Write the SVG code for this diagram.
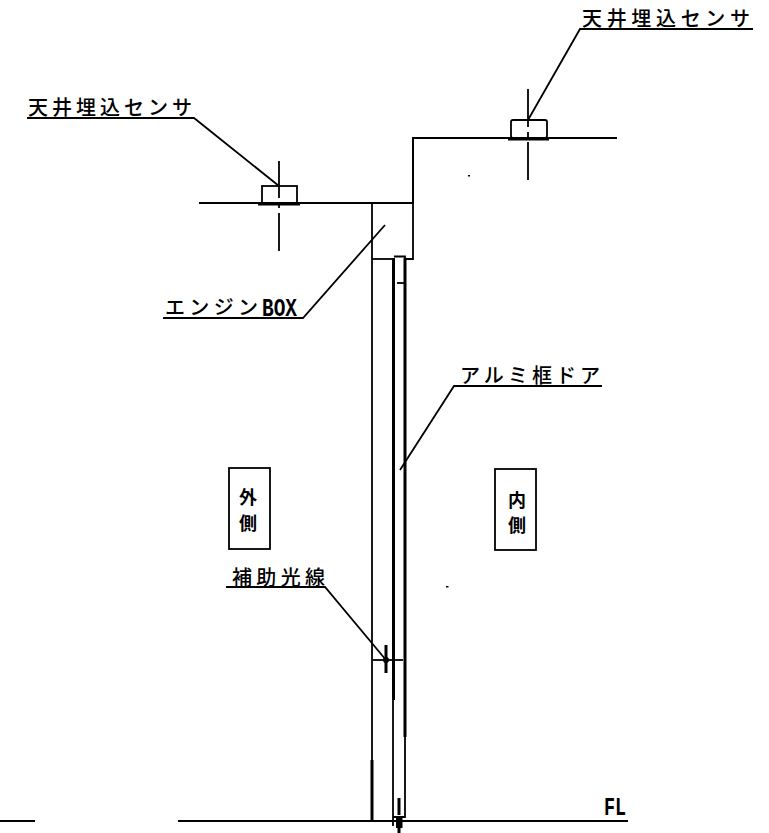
<svg xmlns="http://www.w3.org/2000/svg" width="769" height="833" viewBox="0 0 769 833">
<style>
.l{fill:none;stroke:#000;stroke-width:1.8}
.h{fill:none;stroke:#000;stroke-width:3}
.t{font-family:"Noto Sans CJK JP","Liberation Sans",sans-serif;font-size:20px;font-weight:500;fill:#000}
.v{font-family:"Noto Sans CJK JP","Liberation Sans",sans-serif;font-size:18px;font-weight:700;fill:#000}
.m{font-family:"Liberation Mono","Liberation Sans",monospace;fill:#000}
</style>
<rect width="769" height="833" fill="#fff"/>
<g id="connectors">
<path class="l" d="M27 118H194L279 186"/>
<path class="l" d="M753 29H580L528 120"/>
<path class="l" d="M163 318H303L385 225"/>
<path class="l" d="M602 386H454L400 470"/>
<path class="l" d="M226 587H325L386 660"/>
</g>
<g id="structure">
<path class="l" d="M199 203H413V138H617"/>
<path class="l" d="M413 138V259H405"/>
<path class="l" d="M372 203V760"/>
<path class="h" d="M372 760V821"/>
<path class="l" d="M372 259H393"/>
<path class="l" d="M0 821H35M178 821H628"/>
<rect x="468" y="175" width="2" height="1.500" fill="#000"/>
<rect x="446" y="586" width="2.500" height="1.500" fill="#000"/>
</g>
<g id="door">
<path class="h" d="M393.500 258V700"/>
<path class="l" d="M393 700V826"/>
<path class="l" d="M394 256.500H405V817H393"/>
<path class="h" d="M405 258V737"/>
<path class="l" d="M397 283H404"/>
<path class="h" d="M399 798V815"/>
<rect x="396" y="818" width="6.500" height="10" fill="#000"/>
<path class="h" d="M399 828V833"/>
</g>
<g id="sensor-left">
<rect class="l" x="262" y="186" width="35" height="18"/>
<path class="h" d="M258 204H300"/>
<path class="l" d="M279 161V198M279 205V208M279 213V251"/>
</g>
<g id="sensor-right">
<rect class="l" x="511" y="120" width="36" height="18" rx="2"/>
<path class="h" d="M508 139H549"/>
<path class="l" d="M528 89V127M528 132V138M528 142V180"/>
</g>
<g id="aux-light">
<path class="l" d="M373 660H403"/>
<path class="h" d="M386 645V673"/>
<circle cx="386" cy="660" r="3"/>
</g>
<g id="label-sensor-left"><text class="t" x="28" y="115" textLength="164">天井埋込センサ</text></g>
<g id="label-sensor-right"><text class="t" x="582" y="26" textLength="168">天井埋込センサ</text></g>
<g id="label-engine"><text class="t" x="165" y="315" textLength="93">エンジン</text><text class="m" x="262" y="316" font-size="25" font-weight="700" textLength="35" lengthAdjust="spacingAndGlyphs">BOX</text></g>
<g id="label-door"><text class="t" x="460" y="383" textLength="140">アルミ框ドア</text></g>
<g id="label-aux"><text class="t" x="232" y="585" textLength="93">補助光線</text></g>
<g id="label-fl"><text class="m" x="604" y="815" font-size="25" font-weight="700" textLength="22" lengthAdjust="spacingAndGlyphs">FL</text></g>
<g id="outer"><rect class="l" x="229" y="468" width="41" height="81"/><text class="v" x="248" y="504" text-anchor="middle">外</text><text class="v" x="248" y="530" text-anchor="middle">側</text></g>
<g id="inner"><rect class="l" x="495" y="469" width="41" height="81"/><text class="v" x="517" y="507" text-anchor="middle">内</text><text class="v" x="517" y="532" text-anchor="middle">側</text></g>
</svg>
